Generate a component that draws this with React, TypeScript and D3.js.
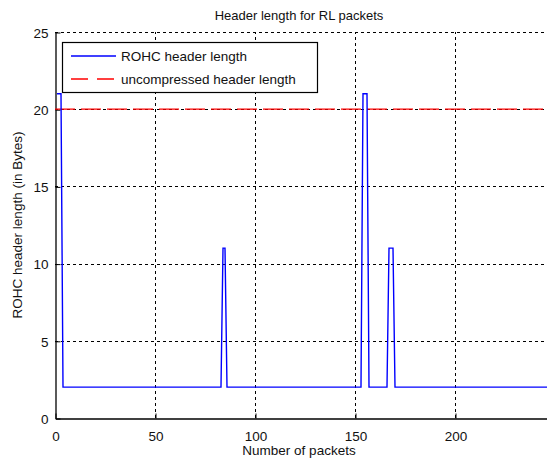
import React, { useRef, useEffect } from "react";
import * as d3 from "d3";

// packet index where the ROHC header length changes (straight segments in between)
const packets = [1, 3, 4, 83, 84, 85, 86, 153, 154, 156, 157, 166, 167, 169, 170, 250];
const rohcLength = [21, 21, 2, 2, 11, 11, 2, 2, 21, 21, 2, 2, 11, 11, 2, 2];
const uncompressedLength = 20;
const xTicks = [0, 50, 100, 150, 200];
const yTicks = [0, 5, 10, 15, 20, 25];
const legendLabels = ["ROHC header length", "uncompressed header length"];

const W = 547;
const H = 462;
const FONT = "'Liberation Sans', Arial, sans-serif";

function App() {
  const svgRef = useRef<SVGSVGElement>(null);

  useEffect(() => {
    const svg = d3.select(svgRef.current);
    svg.selectAll("*").remove();

    const xscale = d3.scaleLinear().domain([0, 250]).range([55, 555]);
    const yscale = d3.scaleLinear().domain([0, 25]).range([418, 32]);

    svg.append("rect").attr("width", W).attr("height", H).attr("fill", "white");

    // grid
    const grid = svg.append("g").attr("stroke", "#000").attr("stroke-width", 1).attr("stroke-dasharray", "3,3");
    grid.selectAll(".gx")
      .data(xTicks.filter(t => t > 0))
      .join("line")
      .attr("x1", d => Math.round(xscale(d)) + 0.5)
      .attr("x2", d => Math.round(xscale(d)) + 0.5)
      .attr("y1", yscale(0))
      .attr("y2", yscale(25));
    grid.selectAll(".gy")
      .data(yTicks.filter(t => t > 0))
      .join("line")
      .attr("x1", xscale(0))
      .attr("x2", W)
      .attr("y1", d => Math.round(yscale(d)) + 0.5)
      .attr("y2", d => Math.round(yscale(d)) + 0.5);

    // axes (MATLAB style inward ticks)
    const xaxis = d3.axisBottom(xscale).tickValues(xTicks).tickSizeInner(-5).tickSizeOuter(0).tickPadding(10);
    const gx = svg.append("g").attr("transform", `translate(0.5,${Math.round(yscale(0)) + 0.5})`).call(xaxis);
    const yaxis = d3.axisLeft(yscale).tickValues(yTicks).tickSizeInner(-5).tickSizeOuter(0).tickPadding(10);
    const gy = svg.append("g").attr("transform", `translate(${xscale(0) + 0.5},0.5)`).call(yaxis);
    [gx, gy].forEach(g => {
      g.select(".domain").attr("stroke", "#000").attr("stroke-width", 1.3);
      g.selectAll("text").attr("font-family", FONT).attr("font-size", 13.5).attr("fill", "#111");
    });
    gx.selectAll("text").attr("dy", "0.9em");
    gy.selectAll("text").attr("dy", "0.35em").attr("dx", "3");

    // uncompressed header length
    svg.append("line")
      .attr("x1", xscale(0))
      .attr("x2", W)
      .attr("y1", yscale(uncompressedLength))
      .attr("y2", yscale(uncompressedLength))
      .attr("stroke", "#ff0000")
      .attr("stroke-width", 1.3)
      .attr("stroke-dasharray", "20,6");

    const myLine = d3.line<number>()
      .x((d, i) => xscale(packets[i]))
      .y(d => yscale(d));

    svg.append("path")
      .datum(rohcLength)
      .attr("d", myLine)
      .attr("fill", "none")
      .attr("stroke", "#0000ff")
      .attr("stroke-width", 1.4);

    // legend
    const lg = svg.append("g");
    lg.append("rect")
      .attr("x", 62.5).attr("y", 42.5).attr("width", 255).attr("height", 50)
      .attr("fill", "white").attr("stroke", "#000").attr("stroke-width", 1.2);
    const colors = ["#0000ff", "#ff0000"];
    const dashes = ["none", "17,9"];
    legendLabels.forEach((lab, i) => {
      const cy = 56 + i * 23;
      lg.append("line")
        .attr("x1", 71).attr("x2", 116).attr("y1", cy).attr("y2", cy)
        .attr("stroke", colors[i]).attr("stroke-width", 1.3)
        .attr("stroke-dasharray", dashes[i]);
      lg.append("text")
        .attr("x", 121).attr("y", cy).attr("dy", "0.35em")
        .attr("font-family", FONT).attr("font-size", 13.5).attr("fill", "#111")
        .text(lab);
    });

    // title and labels
    svg.append("text")
      .attr("x", 299).attr("y", 20).attr("text-anchor", "middle")
      .attr("font-family", FONT).attr("font-size", 13).attr("fill", "#111")
      .text("Header length for RL packets");
    svg.append("text")
      .attr("x", 299).attr("y", 455).attr("text-anchor", "middle")
      .attr("font-family", FONT).attr("font-size", 13.5).attr("fill", "#111")
      .text("Number of packets");
    svg.append("text")
      .attr("transform", `translate(22,${(yscale(0) + yscale(25)) / 2}) rotate(-90)`)
      .attr("text-anchor", "middle")
      .attr("font-family", FONT).attr("font-size", 13.5).attr("fill", "#111")
      .text("ROHC header length (in Bytes)");
  }, []);

  return (
    <svg ref={svgRef} width={W} height={H} style={{ position: "absolute", left: 0, top: 0 }}></svg>
  );
}

export default App;
